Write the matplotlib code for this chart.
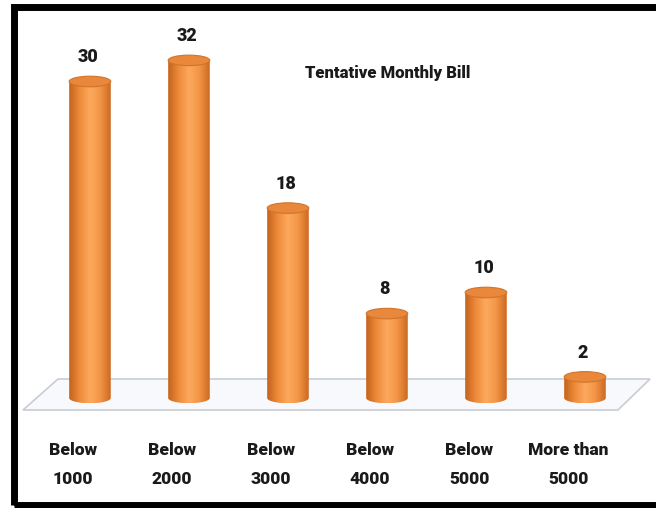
import numpy as np
import matplotlib
matplotlib.use("Agg")
import matplotlib.pyplot as plt
from matplotlib.patches import Ellipse, Polygon, Rectangle
from matplotlib.colors import LinearSegmentedColormap

# data
categories = ["Below\n1000", "Below\n2000", "Below\n3000", "Below\n4000", "Below\n5000", "More than\n5000"]
values = [30, 32, 18, 8, 10, 2]
title = "Tentative Monthly Bill"

plt.rcParams['font.family'] = ['Roboto', 'DejaVu Sans']

fig = plt.figure(figsize=(6.56, 5.08), dpi=100)
ax = fig.add_axes([0.0617, 0.0089, 0.9055, 0.9553])
ax.set_xlim(-0.5, 5.5)
ax.set_ylim(-10, 36)
ax.axis("off")

# floor of the 3d chart
floor = Polygon([[-0.677, -1.14], [5.333, -1.14], [5.657, 1.8], [-0.323, 1.8]],
                closed=True, facecolor="#F7F9FC", edgecolor="#C9CDD2", lw=1.2,
                zorder=1, clip_on=False)
ax.add_patch(floor)

# horizontal gradient for cylinders
cmap = LinearSegmentedColormap.from_list("cyl", ["#C4631C", "#EE8A3A", "#FCA95E", "#F39545", "#CC6A22"])
grad = np.linspace(0, 1, 64).reshape(1, -1)

w = 0.42      # bar width (x units)
eh = 1.0      # ellipse height (y units)

for i, v in enumerate(values):
    x0, x1 = i - w / 2, i + w / 2
    # body outline: top edge, then the lower half-ellipse
    arc = [[i + (w / 2) * np.cos(a), (eh / 2) * np.sin(a)] for a in np.linspace(2 * np.pi, np.pi, 40)]
    verts = np.vstack([[[x0, v], [x1, v]], arc])
    body = Polygon(verts, closed=True, facecolor="none", edgecolor="none", zorder=3)
    ax.add_patch(body)
    im = ax.imshow(grad, cmap=cmap, aspect="auto", extent=[x0, x1, -eh / 2, v],
                   zorder=3, interpolation="bicubic")
    im.set_clip_path(body)
    # top cap
    top = Ellipse((i, v), w, eh, facecolor="#E9873A", edgecolor="#D0742C", lw=0.8, zorder=4)
    ax.add_patch(top)
    ax.text(i - 0.02, v + 2.3, str(v), ha="center", va="center", fontsize=13,
            fontweight="heavy", color="#1A1A1A", zorder=5)
    ax.text(i - 0.17, -6.3, categories[i], ha="center", va="center", fontsize=12.5,
            fontweight="heavy", color="#1A1A1A", linespacing=1.95, zorder=5)

ax.text(3.01, 30.8, title, ha="center", va="center", fontsize=12,
        fontweight="heavy", color="#1A1A1A")

# outer black frame
fig.patches.append(Rectangle((0.0221, 0.0059), 1.2, 0.9803, transform=fig.transFigure,
                             fill=False, edgecolor="black", lw=5.0, figure=fig))

fig.savefig("out.png", dpi=100)
